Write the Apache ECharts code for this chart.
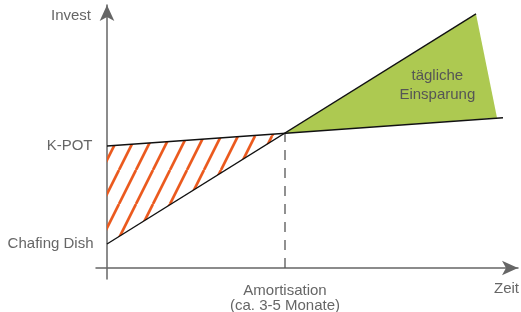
<!DOCTYPE html>
<html>
<head>
<meta charset="utf-8">
<script src="https://cdn.jsdelivr.net/npm/echarts@6/dist/echarts.min.js"></script>
<style>
  html, body { margin: 0; padding: 0; background: #fff; }
  #chart { width: 521px; height: 312px; }
</style>
</head>
<body>
<div id="chart"></div>
<script>
// cost lines over time (schematic units, 0..100)
const kpotCost = [[0, 48], [99, 59.1]];
const chafingCost = [[0, 9.45], [92.25, 100]];
const amortisation = [[44.5, 0], [44.5, 53]];
const extraCostArea = [[0, 48], [44.5, 53], [0, 9.45]];
const savingArea = [[44.5, 53], [92.25, 100], [97.5, 59.1]];

const textColor = '#666';
const font = 'Liberation Sans, Arial, sans-serif';

// orange diagonal stripes for the hatched area
const tile = document.createElement('canvas');
tile.width = 17;
tile.height = 34;
const ctx = tile.getContext('2d');
ctx.strokeStyle = '#eb5a1e';
ctx.lineWidth = 2.7;
for (let k = -1; k <= 1; k++) {
  ctx.beginPath();
  ctx.moveTo(k * 17, 34);
  ctx.lineTo(k * 17 + 17, 0);
  ctx.stroke();
}

var chart = echarts.init(document.getElementById('chart'));

function centroid(pts) {
  let x = 0, y = 0;
  pts.forEach(p => { x += p[0]; y += p[1]; });
  return [x / pts.length, y / pts.length];
}

const axisLine = {
  onZero: true,
  symbol: ['none', 'arrow'],
  symbolSize: [11, 16],
  lineStyle: { color: '#666', width: 1.5 }
};

var option = {
  animation: false,
  grid: { left: 96, right: 3, top: 5, bottom: 33, outerBoundsMode: 'none' },
  xAxis: {
    type: 'value',
    min: -2.75,
    max: 102.75,
    splitLine: { show: false },
    axisLabel: { show: false },
    axisTick: { show: false },
    axisLine: axisLine
  },
  yAxis: {
    type: 'value',
    min: -4.33,
    max: 103.5,
    splitLine: { show: false },
    axisLabel: { show: false },
    axisTick: { show: false },
    axisLine: axisLine
  },
  graphic: [
    { type: 'text', right: 430, top: 8, style: { text: 'Invest', fill: textColor, font: '15px ' + font } },
    { type: 'text', right: 2, top: 281, style: { text: 'Zeit', fill: textColor, font: '15px ' + font } }
  ],
  series: [
    {
      type: 'custom',
      data: [[0, 0]],
      silent: true,
      renderItem: function (params, api) {
        return {
          type: 'polygon',
          shape: { points: extraCostArea.map(p => api.coord(p)) },
          style: { fill: { image: tile, repeat: 'repeat' } }
        };
      }
    },
    {
      type: 'custom',
      data: [[0, 0]],
      silent: true,
      renderItem: function (params, api) {
        const c = api.coord(centroid(savingArea));
        return {
          type: 'group',
          children: [
            {
              type: 'polygon',
              shape: { points: savingArea.map(p => api.coord(p)) },
              style: { fill: '#adc951' }
            },
            {
              type: 'text',
              x: c[0] + 18,
              y: c[1] - 3,
              style: {
                text: 'tägliche\nEinsparung',
                fill: '#555',
                font: '15px ' + font,
                lineHeight: 19,
                align: 'center',
                verticalAlign: 'middle'
              }
            }
          ]
        };
      }
    },
    {
      type: 'line',
      data: amortisation.map((p, i) => i === 0 ? {
        value: p,
        label: {
          show: true,
          position: 'bottom',
          distance: 15,
          formatter: 'Amortisation\n(ca. 3-5 Monate)',
          color: textColor,
          fontFamily: font,
          fontSize: 15,
          lineHeight: 15
        }
      } : p),
      symbol: 'circle',
      symbolSize: 1,
      itemStyle: { color: 'rgba(0,0,0,0)' },
      lineStyle: { color: '#555', width: 1.3, type: [10, 8] }
    },
    {
      type: 'line',
      data: kpotCost.map((p, i) => i === 0 ? {
        value: p,
        label: {
          show: true, position: 'left', distance: 14, formatter: 'K-POT',
          color: textColor, fontFamily: font, fontSize: 15
        }
      } : p),
      symbol: 'circle',
      symbolSize: 1,
      itemStyle: { color: 'rgba(0,0,0,0)' },
      lineStyle: { color: '#111', width: 1.4 }
    },
    {
      type: 'line',
      data: chafingCost.map((p, i) => i === 0 ? {
        value: p,
        label: {
          show: true, position: 'left', distance: 13, formatter: 'Chafing Dish',
          color: textColor, fontFamily: font, fontSize: 15
        }
      } : p),
      symbol: 'circle',
      symbolSize: 1,
      itemStyle: { color: 'rgba(0,0,0,0)' },
      lineStyle: { color: '#111', width: 1.4 }
    }
  ]
};

chart.setOption(option);
</script>
</body>
</html>
